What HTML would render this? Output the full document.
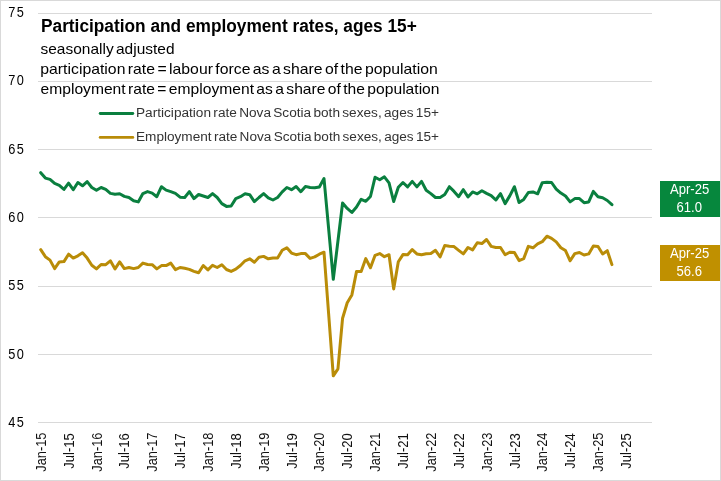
<!DOCTYPE html><html><head><meta charset="utf-8"><title>Participation and employment rates</title><style>
*{margin:0;padding:0}
html,body{width:721px;height:481px;overflow:hidden;background:#fff}
svg{display:block;will-change:transform}
text{font-family:"Liberation Sans",sans-serif}
</style></head><body>
<svg width="721" height="481" viewBox="0 0 721 481">
<rect x="0" y="0" width="721" height="481" fill="#fff"/>
<rect x="38" y="13" width="614" height="1" fill="#d9d9d9"/>
<rect x="38" y="81" width="614" height="1" fill="#d9d9d9"/>
<rect x="38" y="149" width="614" height="1" fill="#d9d9d9"/>
<rect x="38" y="217" width="614" height="1" fill="#d9d9d9"/>
<rect x="38" y="286" width="614" height="1" fill="#d9d9d9"/>
<rect x="38" y="354" width="614" height="1" fill="#d9d9d9"/>
<rect x="38" y="422" width="614" height="1" fill="#d9d9d9"/>
<text transform="translate(25.5,16.50) scale(0.9,1)" font-size="14.2" letter-spacing="1.7" text-anchor="end" fill="#000">75</text>
<text transform="translate(25.5,84.50) scale(0.9,1)" font-size="14.2" letter-spacing="1.7" text-anchor="end" fill="#000">70</text>
<text transform="translate(25.5,153.50) scale(0.9,1)" font-size="14.2" letter-spacing="1.7" text-anchor="end" fill="#000">65</text>
<text transform="translate(25.5,221.50) scale(0.9,1)" font-size="14.2" letter-spacing="1.7" text-anchor="end" fill="#000">60</text>
<text transform="translate(25.5,289.50) scale(0.9,1)" font-size="14.2" letter-spacing="1.7" text-anchor="end" fill="#000">55</text>
<text transform="translate(25.5,358.50) scale(0.9,1)" font-size="14.2" letter-spacing="1.7" text-anchor="end" fill="#000">50</text>
<text transform="translate(25.5,426.50) scale(0.9,1)" font-size="14.2" letter-spacing="1.7" text-anchor="end" fill="#000">45</text>
<text transform="translate(45.82,432.6) rotate(-90) scale(0.915,1)" font-size="14" text-anchor="end" fill="#111">Jan-15</text>
<text transform="translate(73.69,433.1) rotate(-90) scale(0.935,1)" font-size="14" text-anchor="end" fill="#111">Jul-15</text>
<text transform="translate(101.55,432.6) rotate(-90) scale(0.915,1)" font-size="14" text-anchor="end" fill="#111">Jan-16</text>
<text transform="translate(129.41,433.1) rotate(-90) scale(0.935,1)" font-size="14" text-anchor="end" fill="#111">Jul-16</text>
<text transform="translate(157.28,432.6) rotate(-90) scale(0.915,1)" font-size="14" text-anchor="end" fill="#111">Jan-17</text>
<text transform="translate(185.14,433.1) rotate(-90) scale(0.935,1)" font-size="14" text-anchor="end" fill="#111">Jul-17</text>
<text transform="translate(213.01,432.6) rotate(-90) scale(0.915,1)" font-size="14" text-anchor="end" fill="#111">Jan-18</text>
<text transform="translate(240.87,433.1) rotate(-90) scale(0.935,1)" font-size="14" text-anchor="end" fill="#111">Jul-18</text>
<text transform="translate(268.73,432.6) rotate(-90) scale(0.915,1)" font-size="14" text-anchor="end" fill="#111">Jan-19</text>
<text transform="translate(296.60,433.1) rotate(-90) scale(0.935,1)" font-size="14" text-anchor="end" fill="#111">Jul-19</text>
<text transform="translate(324.46,432.6) rotate(-90) scale(0.915,1)" font-size="14" text-anchor="end" fill="#111">Jan-20</text>
<text transform="translate(352.33,433.1) rotate(-90) scale(0.935,1)" font-size="14" text-anchor="end" fill="#111">Jul-20</text>
<text transform="translate(380.19,432.6) rotate(-90) scale(0.915,1)" font-size="14" text-anchor="end" fill="#111">Jan-21</text>
<text transform="translate(408.05,433.1) rotate(-90) scale(0.935,1)" font-size="14" text-anchor="end" fill="#111">Jul-21</text>
<text transform="translate(435.92,432.6) rotate(-90) scale(0.915,1)" font-size="14" text-anchor="end" fill="#111">Jan-22</text>
<text transform="translate(463.78,433.1) rotate(-90) scale(0.935,1)" font-size="14" text-anchor="end" fill="#111">Jul-22</text>
<text transform="translate(491.65,432.6) rotate(-90) scale(0.915,1)" font-size="14" text-anchor="end" fill="#111">Jan-23</text>
<text transform="translate(519.51,433.1) rotate(-90) scale(0.935,1)" font-size="14" text-anchor="end" fill="#111">Jul-23</text>
<text transform="translate(547.37,432.6) rotate(-90) scale(0.915,1)" font-size="14" text-anchor="end" fill="#111">Jan-24</text>
<text transform="translate(575.24,433.1) rotate(-90) scale(0.935,1)" font-size="14" text-anchor="end" fill="#111">Jul-24</text>
<text transform="translate(603.10,432.6) rotate(-90) scale(0.915,1)" font-size="14" text-anchor="end" fill="#111">Jan-25</text>
<text transform="translate(630.97,433.1) rotate(-90) scale(0.935,1)" font-size="14" text-anchor="end" fill="#111">Jul-25</text>
<text x="41" y="32" font-size="17.5" font-weight="bold" fill="#000" textLength="375.8" lengthAdjust="spacingAndGlyphs">Participation and employment rates, ages 15+</text>
<text x="40.5" y="53.6" font-size="14.4" fill="#000" word-spacing="-1.8" textLength="134" lengthAdjust="spacingAndGlyphs">seasonally adjusted</text>
<text x="40.3" y="73.6" font-size="14.4" fill="#000" word-spacing="-1.8" textLength="397.5" lengthAdjust="spacingAndGlyphs">participation rate = labour force as a share of the population</text>
<text x="40.5" y="93.6" font-size="14.4" fill="#000" word-spacing="-1.8" textLength="399" lengthAdjust="spacingAndGlyphs">employment rate = employment as a share of the population</text>
<line x1="100.2" y1="113.5" x2="132.8" y2="113.5" stroke="#0a7f3f" stroke-width="2.9" stroke-linecap="round"/>
<line x1="100.2" y1="137.4" x2="132.8" y2="137.4" stroke="#b98c08" stroke-width="2.9" stroke-linecap="round"/>
<text x="136" y="116.8" font-size="13.7" fill="#333" word-spacing="-1.5" textLength="303" lengthAdjust="spacingAndGlyphs">Participation rate Nova Scotia both sexes, ages 15+</text>
<text x="136" y="140.9" font-size="13.7" fill="#333" word-spacing="-1.5" textLength="303" lengthAdjust="spacingAndGlyphs">Employment rate Nova Scotia both sexes, ages 15+</text>
<polyline points="40.72,172.70 45.37,178.10 50.01,179.40 54.65,183.40 59.30,185.30 63.94,189.40 68.59,183.10 73.23,189.70 77.87,182.50 82.52,185.80 87.16,181.60 91.81,187.50 96.45,190.30 101.09,187.50 105.74,189.40 110.38,193.40 115.03,194.30 119.67,193.80 124.31,196.40 128.96,197.50 133.60,200.80 138.25,201.90 142.89,193.60 147.53,191.60 152.18,193.10 156.82,196.70 161.47,186.70 166.11,190.10 170.75,191.60 175.40,193.40 180.04,197.20 184.69,197.50 189.33,191.60 193.97,198.60 198.62,194.50 203.26,196.00 207.91,197.50 212.55,193.60 217.19,197.50 221.84,203.60 226.48,206.40 231.13,206.00 235.77,198.60 240.41,196.70 245.06,193.80 249.70,194.70 254.35,201.60 258.99,197.50 263.63,193.60 268.28,197.80 272.92,200.00 277.57,197.50 282.21,191.90 286.85,187.50 291.50,189.70 296.14,186.60 300.79,191.70 305.43,186.40 310.07,187.50 314.72,187.70 319.36,186.90 324.01,178.60 328.65,228.80 333.29,279.30 337.94,241.00 342.58,203.00 347.23,208.40 351.87,212.50 356.51,207.10 361.16,199.30 365.80,201.30 370.45,196.50 375.09,177.20 379.73,179.70 384.38,176.80 389.02,182.80 393.67,201.50 398.31,187.30 402.95,182.50 407.60,186.90 412.24,181.40 416.89,186.90 421.53,181.40 426.17,190.30 430.82,193.60 435.46,197.50 440.11,197.50 444.75,194.50 449.39,186.70 454.04,191.40 458.68,196.70 463.33,189.70 467.97,196.90 472.61,191.90 477.26,193.80 481.90,190.80 486.55,193.40 491.19,195.60 495.83,200.00 500.48,193.60 505.12,203.60 509.77,195.90 514.41,186.70 519.05,202.50 523.70,199.40 528.34,192.50 532.99,191.90 537.63,193.80 542.27,182.70 546.92,182.30 551.56,182.50 556.21,189.10 560.85,193.10 565.49,196.00 570.14,201.90 574.78,198.60 579.43,198.60 584.07,202.70 588.71,201.90 593.36,191.40 598.00,196.70 602.65,197.80 607.29,200.50 611.93,204.70" fill="none" stroke="#0a7f3f" stroke-width="3" stroke-linejoin="round" stroke-linecap="round"/>
<polyline points="40.72,249.70 45.37,256.70 50.01,260.10 54.65,268.60 59.30,261.90 63.94,261.60 68.59,254.20 73.23,258.10 77.87,255.80 82.52,252.70 87.16,258.10 91.81,265.30 96.45,268.90 101.09,264.50 105.74,264.70 110.38,260.80 115.03,268.90 119.67,261.90 124.31,268.60 128.96,267.50 133.60,268.60 138.25,267.50 142.89,263.10 147.53,264.50 152.18,264.70 156.82,268.90 161.47,265.60 166.11,265.60 170.75,263.10 175.40,269.70 180.04,267.50 184.69,268.30 189.33,269.40 193.97,271.40 198.62,272.80 203.26,265.50 207.91,269.90 212.55,265.30 217.19,267.50 221.84,264.70 226.48,269.50 231.13,271.40 235.77,269.20 240.41,265.50 245.06,260.80 249.70,258.80 254.35,262.20 258.99,257.30 263.63,256.40 268.28,258.80 272.92,258.10 277.57,258.10 282.21,250.30 286.85,247.70 291.50,253.10 296.14,254.70 300.79,253.60 305.43,253.60 310.07,258.40 314.72,256.90 319.36,254.20 324.01,252.20 328.65,314.00 333.29,375.80 337.94,368.80 342.58,318.20 347.23,302.70 351.87,294.90 356.51,271.60 361.16,271.60 365.80,258.60 370.45,267.80 375.09,255.30 379.73,253.60 384.38,256.70 389.02,254.70 393.67,288.90 398.31,261.70 402.95,254.60 407.60,254.80 412.24,249.60 416.89,253.90 421.53,254.70 426.17,253.80 430.82,253.40 435.46,250.30 440.11,256.90 444.75,245.50 449.39,246.20 454.04,246.60 458.68,250.30 463.33,253.90 467.97,247.50 472.61,249.90 477.26,242.80 481.90,243.60 486.55,239.50 491.19,246.40 495.83,247.50 500.48,247.50 505.12,254.70 509.77,252.20 514.41,252.50 519.05,260.60 523.70,258.60 528.34,246.40 532.99,247.80 537.63,243.90 542.27,241.70 546.92,236.20 551.56,238.40 556.21,241.90 560.85,247.70 565.49,250.60 570.14,260.80 574.78,253.60 579.43,252.50 584.07,255.00 588.71,253.90 593.36,245.90 598.00,246.50 602.65,254.00 607.29,250.70 611.93,264.60" fill="none" stroke="#b98c08" stroke-width="3" stroke-linejoin="round" stroke-linecap="round"/>
<rect x="660" y="181" width="60" height="36" fill="#06873d"/>
<rect x="660" y="245" width="60" height="36" fill="#c09000"/>
<text transform="translate(689.6,194.0) scale(0.95,1)" font-size="13.8" text-anchor="middle" fill="#fff">Apr-25</text>
<text transform="translate(689.2,211.9) scale(0.95,1)" font-size="13.8" text-anchor="middle" fill="#fff">61.0</text>
<text transform="translate(689.6,257.9) scale(0.95,1)" font-size="13.8" text-anchor="middle" fill="#fff">Apr-25</text>
<text transform="translate(689.2,275.6) scale(0.95,1)" font-size="13.8" text-anchor="middle" fill="#fff">56.6</text>
<rect x="0.5" y="0.5" width="720" height="480" fill="none" stroke="#d9d9d9" stroke-width="1"/>
</svg></body></html>
